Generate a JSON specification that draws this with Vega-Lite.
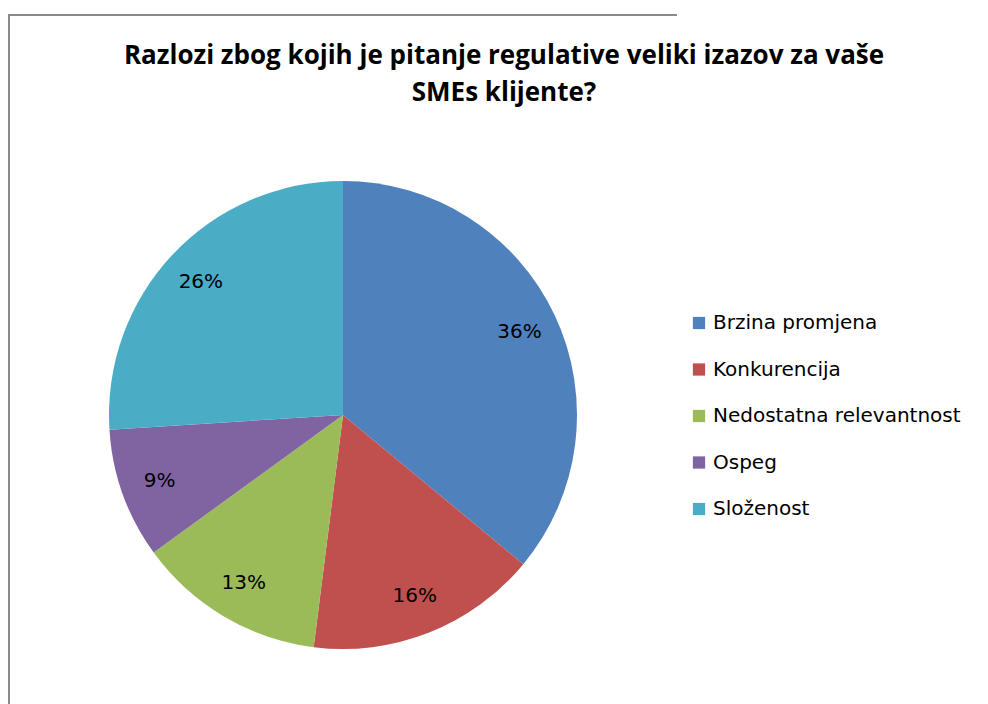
{
  "$schema": "https://vega.github.io/schema/vega-lite/v6.json",
  "width": 668,
  "height": 800,
  "autosize": {"type": "none"},
  "padding": {"left": 9, "top": 15, "right": 311, "bottom": -111},
  "background": "white",
  "view": {"stroke": "#8a8a8a", "strokeWidth": 2, "strokeDash": [668, 1468, 800]},
  "config": {
    "font": "DejaVu Sans"
  },
  "title": {
    "text": ["Razlozi zbog kojih je pitanje regulative veliki izazov za vaše", "SMEs klijente?"],
    "font": "Open Sans",
    "fontSize": 26,
    "fontWeight": "bold",
    "color": "#000000",
    "anchor": "middle",
    "lineHeight": 37,
    "dx": 161,
    "offset": -91
  },
  "data": {
    "values": [
      {"i": 1, "cat": "Brzina promjena", "value": 36, "label": "36%"},
      {"i": 2, "cat": "Konkurencija", "value": 16, "label": "16%"},
      {"i": 3, "cat": "Nedostatna relevantnost", "value": 13, "label": "13%"},
      {"i": 4, "cat": "Ospeg", "value": 9, "label": "9%"},
      {"i": 5, "cat": "Složenost", "value": 26, "label": "26%"}
    ]
  },
  "encoding": {
    "theta": {"field": "value", "type": "quantitative", "stack": true},
    "order": {"field": "i", "type": "quantitative"}
  },
  "layer": [
    {
      "mark": {"type": "arc", "outerRadius": 234},
      "encoding": {
        "color": {
          "field": "cat",
          "type": "nominal",
          "scale": {
            "domain": ["Brzina promjena", "Konkurencija", "Nedostatna relevantnost", "Ospeg", "Složenost"],
            "range": ["#4F81BD", "#C0504D", "#9BBB59", "#8064A2", "#4BACC6"]
          },
          "legend": {
            "title": null,
            "orient": "none",
            "legendX": 680,
            "legendY": 298,
            "symbolType": "square",
            "symbolSize": 150,
            "symbolStrokeWidth": 0,
            "labelFont": "DejaVu Sans",
            "labelFontSize": 20,
            "labelColor": "#000000",
            "labelOffset": 4,
            "rowPadding": 26.5,
            "labelLimit": 400
          }
        }
      }
    },
    {
      "mark": {"type": "text", "radius": 195, "fontSize": 20, "font": "DejaVu Sans", "color": "#000000"},
      "encoding": {
        "text": {"field": "label", "type": "nominal"},
        "detail": {"field": "cat", "type": "nominal"}
      }
    }
  ]
}
